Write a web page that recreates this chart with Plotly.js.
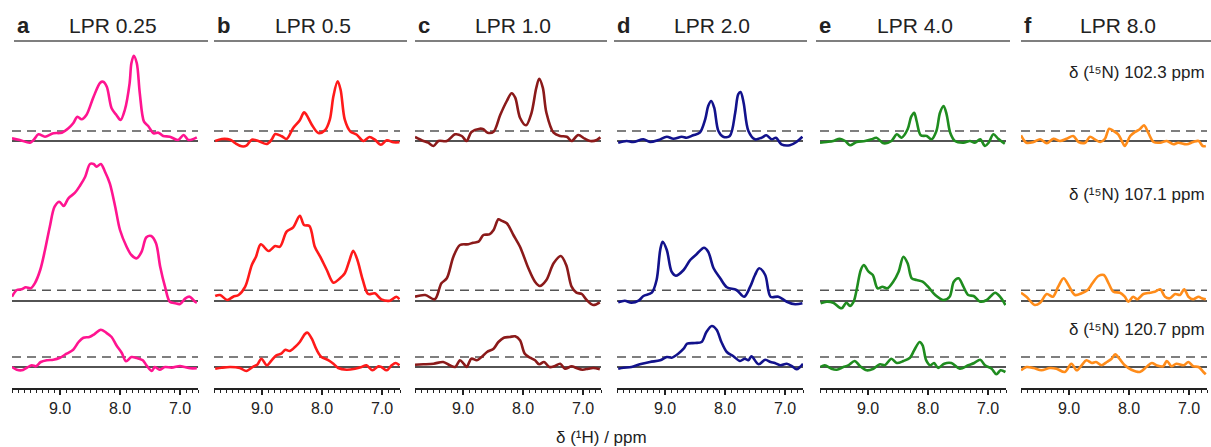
<!DOCTYPE html>
<html>
<head>
<meta charset="utf-8">
<script src="https://cdn.plot.ly/plotly-3.0.1.min.js"></script>
<style>
  html, body { margin: 0; padding: 0; background: #ffffff; }
  #chart { width: 1211px; height: 447px; }
</style>
</head>
<body>
<div id="chart"></div>
<script>
// ---------- DATA ----------
const panelLetters = ['a', 'b', 'c', 'd', 'e', 'f'];
const lprLabels = ['LPR 0.25', 'LPR 0.5', 'LPR 1.0', 'LPR 2.0', 'LPR 4.0', 'LPR 8.0'];
const n15Shifts = ['102.3', '107.1', '120.7'];
const xLabelVals = [9.0, 8.0, 7.0];
const xLabelText = ['9.0', '8.0', '7.0'];
const xHalfVals = [9.5, 8.5, 7.5];
const xRange = [9.8, 6.7];
const noiseLevel = [10, 10.7, 10];   // dashed threshold per row (same units as intensities)
const colors = ['#ff1490', '#ff1a1a', '#8b1a1a', '#12128c', '#1f8c1f', '#ff8c1a'];

// Row 1: δ(15N) 102.3 ppm
const a1_ppm = [9.8,9.67,9.5,9.44,9.36,9.25,9.11,8.97,8.86,8.78,8.71,8.64,8.56,8.44,8.33,8.28,8.22,8.14,8.06,7.99,7.92,7.84,7.81,7.77,7.72,7.67,7.6,7.53,7.44,7.36,7.28,7.17,7.03,6.94,6.86,6.72];
const a1_int = [2.7,1,-1.7,1,6.7,4.3,7.7,8.3,12.7,17.7,24.3,21.7,26,44.3,58.3,59.3,54.3,32.7,26,21,31,57.7,77.7,85.3,77.7,47.7,19.3,15,7.7,8.3,5,4.3,1,6,1,3.7];
const b1_ppm = [9.78,9.67,9.53,9.45,9.34,9.26,9.17,9.06,8.92,8.84,8.78,8.67,8.59,8.48,8.37,8.3,8.26,8.17,8.06,7.95,7.87,7.81,7.74,7.69,7.62,7.53,7.42,7.31,7.21,7.12,7.02,6.92,6.81,6.71];
const b1_int = [0,2,1.3,-2,-5.3,-4.7,1.3,0,-3,1.3,7,4.7,2,13,20.7,28.7,26.3,16.3,8,10.7,21.3,44.7,59.7,51.3,21.3,9.7,6.3,0,4,1.3,-3.7,0.7,-1.3,-1.3];
const c1_ppm = [9.8,9.66,9.58,9.49,9.41,9.27,9.13,9.02,8.94,8.86,8.72,8.66,8.59,8.49,8.38,8.27,8.19,8.13,8.05,7.95,7.86,7.78,7.73,7.67,7.61,7.49,7.38,7.27,7.19,7.08,6.97,6.88,6.77,6.71];
const c1_int = [4,0,-1.7,-5,0,0,6.7,5,0,9,12.3,11.7,8.3,9.3,26,40,47.7,43.3,23.3,15.7,27.7,52.7,62.3,53.3,28.3,8.3,5,4.3,0,6,2.3,0,1,3.7];
const d1_ppm = [9.78,9.64,9.53,9.36,9.25,9.11,8.97,8.86,8.72,8.64,8.53,8.42,8.33,8.28,8.23,8.18,8.11,8.03,7.92,7.83,7.78,7.74,7.69,7.61,7.5,7.39,7.31,7.22,7.15,7.06,6.92,6.81,6.71];
const d1_int = [-1.7,0,-1,1.7,-1,1,4.3,2.3,4.3,3.3,5.7,8.3,21.7,35,40,33.3,10,4.3,5,28.3,46.7,49,38.3,10,1.7,3.3,5.7,1.7,3.3,-3.3,-4.3,-1,4.3];
const e1_ppm = [9.8,9.69,9.58,9.47,9.38,9.3,9.19,9.05,8.94,8.86,8.74,8.61,8.52,8.44,8.34,8.28,8.23,8.19,8.12,8.02,7.94,7.86,7.8,7.74,7.69,7.63,7.55,7.41,7.3,7.22,7.13,7.05,6.99,6.91,6.83,6.72];
const e1_int = [-1.7,-1,0,2.3,0,-4.3,-1,0,1.7,3.3,-2.3,0,6.7,3.3,11.7,24.3,28.3,20,5.7,5,1.7,10,28.3,35,26.7,8.3,0,-1.7,0,-1.7,1.7,-5,-1.7,6.7,2.3,-2.7];
const f1_ppm = [9.8,9.71,9.59,9.48,9.37,9.26,9.15,9.04,8.93,8.84,8.73,8.65,8.57,8.48,8.4,8.33,8.26,8.18,8.12,8.07,7.98,7.9,7.82,7.75,7.68,7.59,7.48,7.37,7.26,7.18,7.04,6.93,6.84,6.77,6.72];
const f1_int = [5.7,-1.7,-1,1.7,-2.3,2.3,0,2.3,5,-1,-1.7,4.3,1.7,-1,2.3,12.3,10,6.7,0,-5,5,9,11.7,15.7,8.3,-1,-1.7,0,-3.3,-1.7,-3.3,-1,0,-5,-5];

// Row 2: δ(15N) 107.1 ppm
const a2_ppm = [9.8,9.72,9.64,9.57,9.49,9.42,9.33,9.25,9.17,9.09,9.01,8.94,8.86,8.75,8.67,8.58,8.5,8.44,8.39,8.32,8.25,8.17,8.08,8.0,7.89,7.81,7.72,7.64,7.56,7.48,7.4,7.33,7.25,7.17,7.08,7.0,6.91,6.84,6.75,6.72];
const a2_int = [4.3,11,11.7,13.7,12.7,17.7,31,51,74.3,94.3,99.3,95,102.7,108.3,115,124.3,137,137,134.3,137,129.3,117.7,94.3,71,54.3,46,42.7,49.3,63.7,65,57.7,34.3,14.3,-0.7,-2.3,-3,2.7,4.3,-0.7,-1.7];
const b2_ppm = [9.78,9.7,9.58,9.48,9.39,9.28,9.17,9.1,9.02,8.89,8.78,8.7,8.59,8.48,8.37,8.3,8.21,8.12,8.03,7.92,7.81,7.7,7.62,7.54,7.48,7.41,7.32,7.23,7.12,7.01,6.87,6.76,6.71];
const b2_int = [5,6,1,4.3,6,14.3,36,44.3,56.7,50,55,54.3,69.3,73.7,85.3,76,75,54.3,44.3,31,18.3,22.7,27.7,41,50.3,41,21,7,7.7,1.7,0.3,4.3,1.7];
const c2_ppm = [9.8,9.63,9.47,9.36,9.27,9.16,9.05,8.91,8.83,8.74,8.66,8.56,8.49,8.41,8.36,8.27,8.16,8.05,7.91,7.8,7.72,7.61,7.49,7.37,7.28,7.19,7.11,7.02,6.94,6.83,6.72];
const c2_int = [4.3,6,1.7,17.7,22.7,44.3,56,56.7,58.3,59.3,66,66.7,71,81.7,80.3,77.7,66,54.3,32.7,19.3,15,21,37.7,45,36,14.3,8.3,7,1,-4,-1.3];
const d2_ppm = [9.78,9.67,9.56,9.44,9.36,9.22,9.14,9.08,9.04,8.97,8.89,8.82,8.69,8.58,8.47,8.35,8.28,8.19,8.08,7.97,7.81,7.68,7.58,7.5,7.43,7.33,7.24,7.11,6.97,6.83,6.71];
const d2_int = [-1.3,0.3,-1.7,0.3,5,8.3,21,51,59.3,51,29.3,25.3,31,41,47,53.3,49.3,32.7,22.7,13.7,11,4.3,14.3,26,32.7,26,4.3,4.3,-0.7,-3.3,-2.3];
const e2_ppm = [9.79,9.69,9.58,9.44,9.36,9.3,9.24,9.19,9.12,9.07,8.99,8.92,8.84,8.76,8.68,8.58,8.49,8.41,8.34,8.27,8.19,8.09,8.0,7.88,7.74,7.64,7.57,7.49,7.41,7.33,7.24,7.13,7.02,6.88,6.8,6.71];
const e2_int = [-2.3,-0.7,-1.7,-7.3,-1.7,-5,-0.7,11,31,36,29.3,26,12.7,14.3,12.7,19.3,29.3,44.3,37.7,22.7,21,19.3,14.3,6,1,4.3,19.3,22.7,14.3,6,5,-0.7,1,8.3,4.3,-4];
const f2_ppm = [9.8,9.71,9.57,9.48,9.37,9.27,9.18,9.09,9.01,8.9,8.79,8.69,8.61,8.51,8.42,8.34,8.26,8.15,8.07,8.01,7.93,7.86,7.76,7.65,7.57,7.48,7.4,7.32,7.23,7.15,7.08,7.01,6.93,6.84,6.79,6.72];
const f2_int = [8.3,4.3,-4,-1.7,7,4.3,14.3,22.7,16,6,7.7,11,17.7,25,26,17.7,9.3,8.3,4.3,-0.7,4.3,1.7,7,8.3,9.3,11.7,4.3,2.7,7,6,11.7,4.3,1.7,4.3,2.7,1.7];

// Row 3: δ(15N) 120.7 ppm
const a3_ppm = [9.8,9.72,9.64,9.56,9.47,9.4,9.32,9.22,9.11,9.0,8.89,8.78,8.69,8.61,8.51,8.43,8.32,8.23,8.14,8.06,7.97,7.9,7.81,7.72,7.62,7.56,7.47,7.42,7.34,7.25,7.14,7.0,6.92,6.83,6.72];
const a3_int = [0,-2.7,-3.3,-1,1.7,0.7,5,6.7,7.3,9.3,13.3,17.3,25,29.3,30,32.7,37.3,34.3,30,21.7,14,5.7,10,9,6.7,1.7,-4,0,-2.7,0,-0.7,1,0,-1.3,-1.3];
const b3_ppm = [9.78,9.67,9.53,9.37,9.26,9.14,9.08,9.01,8.92,8.84,8.76,8.68,8.61,8.54,8.45,8.37,8.28,8.24,8.17,8.09,8.01,7.89,7.81,7.73,7.59,7.45,7.34,7.26,7.16,7.06,7.01,6.92,6.84,6.77,6.71];
const b3_int = [-1.7,-0.7,0,-1,-4,0.7,2.3,8.3,1.7,6.7,11.7,13.3,17.3,16,20,25,33.3,34.3,28.3,17.3,10,6.7,3.3,-1,-2.7,-1.7,0,1.7,-3.3,0.7,0,-3.3,1.7,4,1.7];
const c3_ppm = [9.8,9.66,9.49,9.33,9.22,9.13,9.05,8.99,8.94,8.86,8.77,8.69,8.6,8.49,8.41,8.32,8.22,8.13,8.05,7.97,7.88,7.8,7.73,7.65,7.56,7.48,7.38,7.3,7.19,7.11,7.01,6.91,6.83,6.72];
const c3_int = [2.3,2.7,3.3,5,1.7,0,6.7,3.3,0,8.3,6.7,10,15,18.3,25,29.3,30,30.7,26.7,13.3,9.3,6.7,2.7,5,0,0.7,3.3,-1.7,0.7,-1,-2.7,-1.7,-1,-2.3];
const d3_ppm = [9.78,9.69,9.56,9.42,9.25,9.08,8.97,8.89,8.78,8.69,8.63,8.5,8.39,8.31,8.22,8.14,8.06,7.97,7.86,7.75,7.67,7.61,7.56,7.44,7.33,7.24,7.17,7.08,6.97,6.88,6.81,6.75,6.7];
const d3_int = [-1.7,-0.7,0,2.7,5,6.7,10,9.3,13.3,18.3,23.3,24,25,35,41,37.3,25,15,10.7,6,8.3,6.7,10.7,2.7,7.3,5,4,1.7,3.3,0.7,-2.3,0,3.3];
const e3_ppm = [9.79,9.72,9.61,9.52,9.41,9.33,9.22,9.13,9.02,8.91,8.8,8.72,8.61,8.52,8.41,8.3,8.23,8.14,8.09,8.03,7.96,7.9,7.83,7.73,7.61,7.47,7.33,7.23,7.13,7.05,6.94,6.86,6.79,6.71];
const e3_int = [0,1.7,-1.7,-2.7,0,1.7,6,0.7,-3.3,-1.7,2.7,1.7,8.3,4,6,9.3,16.7,25,21.7,6.7,1.7,4,-1,3.3,4,-1.7,1.7,4,7.3,1.7,-1.7,-7.3,-3.3,-5];
const f3_ppm = [9.8,9.71,9.59,9.46,9.32,9.21,9.07,8.96,8.87,8.79,8.71,8.62,8.55,8.46,8.37,8.29,8.23,8.16,8.07,7.96,7.82,7.71,7.62,7.54,7.43,7.37,7.29,7.21,7.09,7.01,6.93,6.84,6.76,6.72];
const f3_int = [-3.3,0,-1,-3.3,-1,-1.7,-5,3.3,-3.3,1.7,6.7,4,5,1.7,5,8.3,12.7,8.3,1.7,-2.7,-5,0,4,1.7,0.7,6,0.7,3.3,1.7,5,0.7,0,-5,-7.3];

// ---------- assembly ----------
const spectra = [
  [[a1_ppm,a1_int],[b1_ppm,b1_int],[c1_ppm,c1_int],[d1_ppm,d1_int],[e1_ppm,e1_int],[f1_ppm,f1_int]],
  [[a2_ppm,a2_int],[b2_ppm,b2_int],[c2_ppm,c2_int],[d2_ppm,d2_int],[e2_ppm,e2_int],[f2_ppm,f2_int]],
  [[a3_ppm,a3_int],[b3_ppm,b3_int],[c3_ppm,c3_int],[d3_ppm,d3_int],[e3_ppm,e3_int],[f3_ppm,f3_int]]
];

const W = 1211, H = 447;
const colLeft = [12, 214, 415, 617, 820, 1021];
const colW = 186;
const rowPx = [[51, 149], [159, 311], [322, 388]];   // top, bottom px of each row
const rowRange = [[-8, 90], [-10, 142], [-21, 45]];
const headerSpan = [[14, 208], [214, 407], [415, 607], [614, 807], [816, 1010], [1021, 1211]];
const FONT = '"Liberation Sans", Arial, Helvetica, sans-serif';
const py = p => 1 - p / H;
const px = p => p / W;

const traces = [];
const layout = {
  width: W, height: H, autosize: false,
  margin: {l: 0, r: 0, t: 0, b: 0, pad: 0},
  paper_bgcolor: '#ffffff', plot_bgcolor: 'rgba(0,0,0,0)',
  showlegend: false, hovermode: false,
  font: {family: FONT, color: '#222', size: 16},
  shapes: [], annotations: []
};

for (let r = 0; r < 3; r++) {
  for (let c = 0; c < 6; c++) {
    const k = r * 6 + c + 1;
    const xn = k === 1 ? 'x' : 'x' + k, yn = k === 1 ? 'y' : 'y' + k;
    const xa = k === 1 ? 'xaxis' : 'xaxis' + k, ya = k === 1 ? 'yaxis' : 'yaxis' + k;
    const [xs, ys] = spectra[r][c];
    traces.push({
      x: xs, y: ys, xaxis: xn, yaxis: yn, type: 'scatter', mode: 'lines',
      line: {color: colors[c], width: 2.6, shape: 'spline', smoothing: 0.9},
      hoverinfo: 'skip'
    });
    const isBottom = r === 2;
    layout[xa] = {
      domain: [px(colLeft[c]), px(colLeft[c] + colW)],
      range: xRange, anchor: yn, fixedrange: true,
      showgrid: false, zeroline: false,
      visible: isBottom,
      showline: isBottom, linecolor: '#222', linewidth: 1.5,
      ticks: isBottom ? 'outside' : '', ticklen: 5, tickwidth: 1.3, tickcolor: '#222',
      tickmode: 'array', tickvals: xLabelVals, ticktext: xLabelText,
      tickfont: {family: FONT, size: 16, color: '#222'},
      minor: isBottom ? {dtick: 0.1, tick0: 0, ticks: 'outside', ticklen: 3, tickwidth: 1, tickcolor: '#222', showgrid: false} : undefined
    };
    layout[ya] = {
      domain: [py(rowPx[r][1]), py(rowPx[r][0])],
      range: rowRange[r], anchor: xn, fixedrange: true, visible: false
    };
    // baseline and noise threshold
    layout.shapes.push({
      type: 'line', xref: xn + ' domain', yref: yn, x0: 0, x1: 1, y0: 0, y1: 0,
      line: {color: '#1a1a1a', width: 1.3}, layer: 'below'
    });
    layout.shapes.push({
      type: 'line', xref: xn + ' domain', yref: yn, x0: 0, x1: 1, y0: noiseLevel[r], y1: noiseLevel[r],
      line: {color: '#555', width: 1.5, dash: '9px,6px'}, layer: 'below'
    });
  }
}

// overlay axes carrying the longer half-ppm ticks (no labels)
for (let c = 0; c < 6; c++) {
  const base = 13 + c;
  const k = 19 + c;
  layout['xaxis' + k] = {
    overlaying: 'x' + base, anchor: 'y' + base, side: 'bottom',
    range: xRange, fixedrange: true, showgrid: false, zeroline: false,
    showline: false, showticklabels: false,
    ticks: 'outside', ticklen: 5, tickwidth: 1.3, tickcolor: '#222',
    tickmode: 'array', tickvals: xHalfVals
  };
}

// headers
for (let c = 0; c < 6; c++) {
  const [h0, h1] = headerSpan[c];
  layout.shapes.push({
    type: 'line', xref: 'paper', yref: 'paper', x0: px(h0), x1: px(h1), y0: py(41), y1: py(41),
    line: {color: '#555', width: 1.6}
  });
  layout.annotations.push({
    xref: 'paper', yref: 'paper', x: px(h0 + 1), y: py(26), xanchor: 'left', yanchor: 'middle',
    text: '<b>' + panelLetters[c] + '</b>', showarrow: false,
    font: {family: FONT, size: 22, color: '#222'}
  });
  layout.annotations.push({
    xref: 'paper', yref: 'paper', x: px((h0 + h1) / 2 + 2), y: py(26), xanchor: 'center', yanchor: 'middle',
    text: lprLabels[c], showarrow: false,
    font: {family: FONT, size: 21, color: '#222'}
  });
}

// 15N labels (unicode superscripts)
const n15Y = [72, 195, 329];
for (let r = 0; r < 3; r++) {
  layout.annotations.push({
    xref: 'paper', yref: 'paper', x: px(1207), y: py(n15Y[r]), xanchor: 'right', yanchor: 'middle',
    text: 'δ (\u00B9\u2075N) ' + n15Shifts[r] + ' ppm', showarrow: false,
    font: {family: FONT, size: 17, color: '#222'}
  });
}

// x title
layout.annotations.push({
  xref: 'paper', yref: 'paper', x: px(601), y: py(437), xanchor: 'center', yanchor: 'middle',
  text: 'δ (\u00B9H) / ppm', showarrow: false,
  font: {family: FONT, size: 17, color: '#222'}
});

Plotly.newPlot('chart', traces, layout, {staticPlot: true, displayModeBar: false});
</script>
</body>
</html>
